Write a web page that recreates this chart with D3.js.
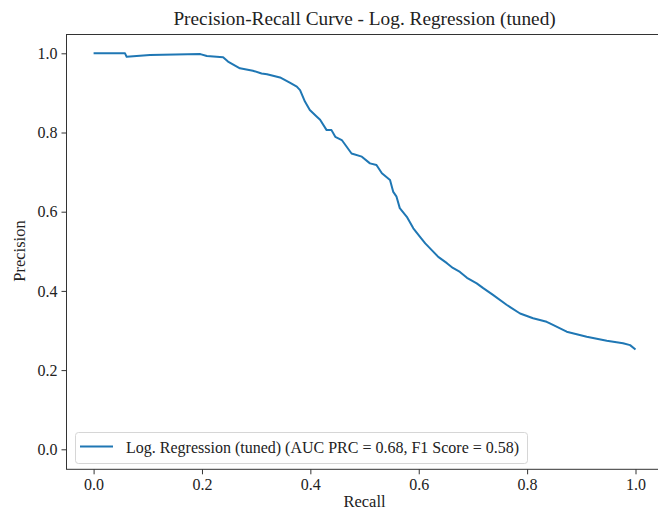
<!DOCTYPE html>
<html>
<head>
<meta charset="utf-8">
<script src="https://cdn.jsdelivr.net/npm/d3@7/dist/d3.min.js"></script>
<style>
html,body{margin:0;padding:0;background:#fff;}
svg{display:block;font-family:"Liberation Serif","DejaVu Serif",serif;}
</style>
</head>
<body>
<svg id="chart" width="658" height="512"></svg>
<script>
const recall = [0, 0.058, 0.061, 0.104, 0.197, 0.209, 0.239, 0.248, 0.270, 0.294, 0.310, 0.320, 0.344, 0.362, 0.375, 0.381, 0.390, 0.399, 0.412, 0.418, 0.430, 0.439, 0.446, 0.458, 0.467, 0.476, 0.495, 0.510, 0.522, 0.532, 0.547, 0.553, 0.559, 0.565, 0.578, 0.590, 0.602, 0.612, 0.624, 0.636, 0.652, 0.663, 0.676, 0.689, 0.707, 0.719, 0.737, 0.762, 0.787, 0.811, 0.836, 0.842, 0.873, 0.910, 0.947, 0.977, 0.990, 1.0];
const precision = [1.0, 1.0, 0.991, 0.996, 0.998, 0.993, 0.990, 0.979, 0.962, 0.956, 0.949, 0.947, 0.939, 0.926, 0.916, 0.907, 0.878, 0.857, 0.840, 0.832, 0.806, 0.806, 0.789, 0.781, 0.764, 0.747, 0.739, 0.722, 0.718, 0.697, 0.680, 0.650, 0.638, 0.609, 0.587, 0.558, 0.537, 0.520, 0.503, 0.486, 0.470, 0.458, 0.448, 0.433, 0.419, 0.407, 0.390, 0.365, 0.343, 0.331, 0.322, 0.318, 0.297, 0.284, 0.274, 0.268, 0.263, 0.252];
const xTicks = [0, 0.2, 0.4, 0.6, 0.8, 1.0];
const yTicks = [0, 0.2, 0.4, 0.6, 0.8, 1.0];
const title = "Precision-Recall Curve - Log. Regression (tuned)";
const xLabel = "Recall";
const yLabel = "Precision";
const legendLabel = "Log. Regression (tuned) (AUC PRC = 0.68, F1 Score = 0.58)";

const svg = d3.select("#chart");
const box = {left: 66.5, right: 662.6, top: 34.5, bottom: 469.3};
const x = d3.scaleLinear().domain([-0.05, 1.05]).range([box.left, box.right]);
const y = d3.scaleLinear().domain([0, 1]).range([449.3, 53.3]);
const color = "#1f77b4";

// curve
const data = recall.map((r, i) => [r, precision[i]]);
svg.append("path")
  .datum(data)
  .attr("fill", "none")
  .attr("stroke", color)
  .attr("stroke-width", 2)
  .attr("stroke-linejoin", "round")
  .attr("d", d3.line().x(d => x(d[0])).y(d => y(d[1])));

// frame
svg.append("rect")
  .attr("x", box.left).attr("y", box.top)
  .attr("width", box.right - box.left).attr("height", box.bottom - box.top)
  .attr("fill", "none").attr("stroke", "#333").attr("stroke-width", 1);

// axes
const xAxis = d3.axisBottom(x).tickValues(xTicks).tickFormat(d3.format(".1f")).tickSize(5).tickPadding(4);
const gx = svg.append("g").attr("transform", `translate(0,${box.bottom})`).call(xAxis);
gx.select(".domain").remove();
gx.selectAll("line").attr("stroke", "#333");
gx.selectAll("text").attr("font-family", "Liberation Serif").attr("font-size", 16).attr("fill", "#222");

const yAxis = d3.axisLeft(y).tickValues(yTicks).tickFormat(d3.format(".1f")).tickSize(5).tickPadding(4);
const gy = svg.append("g").attr("transform", `translate(${box.left},0)`).call(yAxis);
gy.select(".domain").remove();
gy.selectAll("line").attr("stroke", "#333");
gy.selectAll("text").attr("font-family", "Liberation Serif").attr("font-size", 16).attr("fill", "#222");

// title & labels
svg.append("text").attr("x", (box.left + box.right) / 2).attr("y", 25)
  .attr("text-anchor", "middle").attr("font-size", 19.3).attr("fill", "#222").text(title);
svg.append("text").attr("x", (box.left + box.right) / 2).attr("y", 507)
  .attr("text-anchor", "middle").attr("font-size", 16.5).attr("fill", "#222").text(xLabel);
svg.append("text").attr("transform", `translate(25,251) rotate(-90)`)
  .attr("text-anchor", "middle").attr("font-size", 16.5).attr("fill", "#222").text(yLabel);

// legend
const lg = svg.append("g");
lg.append("rect").attr("x", 75.5).attr("y", 432.5).attr("width", 452).attr("height", 31)
  .attr("rx", 3).attr("fill", "#fff").attr("fill-opacity", 0.8).attr("stroke", "#d6d6d6");
lg.append("line").attr("x1", 80).attr("x2", 113).attr("y1", 446.5).attr("y2", 446.5)
  .attr("stroke", color).attr("stroke-width", 2);
lg.append("text").attr("x", 126).attr("y", 452.5).attr("font-size", 16).attr("fill", "#222").text(legendLabel);
</script>
</body>
</html>
